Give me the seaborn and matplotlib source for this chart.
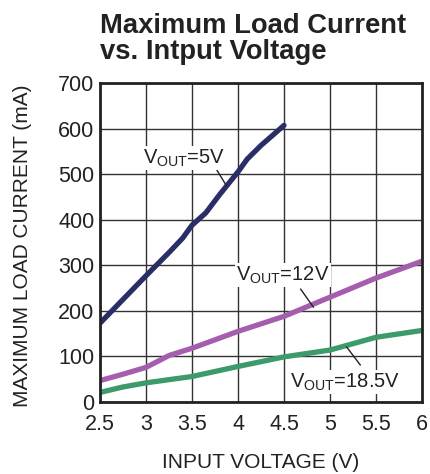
import numpy as np
import pandas as pd
import matplotlib
matplotlib.use("Agg")
import matplotlib.pyplot as plt
import seaborn as sns

sns.set_style("white")
plt.rcParams['font.family'] = ['Liberation Sans', 'DejaVu Sans']
plt.rcParams['mathtext.fontset'] = 'custom'
plt.rcParams['mathtext.rm'] = 'Liberation Sans'

# data (input voltage V, load current mA)
vin_5 = [2.5, 2.75, 3.0, 3.25, 3.4, 3.5, 3.65, 3.8, 4.0, 4.1, 4.25, 4.5]
iout_5 = [173, 225, 277, 328, 360, 388, 415, 455, 505, 533, 563, 607]

vin_12 = [2.5, 2.75, 3.0, 3.25, 3.5, 4.0, 4.5, 5.0, 5.5, 6.0]
iout_12 = [47, 61, 76, 102, 118, 155, 188, 230, 272, 309]

vin_185 = [2.5, 2.75, 3.0, 3.5, 4.0, 4.5, 5.0, 5.5, 6.0]
iout_185 = [21, 33, 42, 56, 78, 99, 114, 142, 157]

labels = ['V$_{\\mathregular{OUT}}$=5V', 'V$_{\\mathregular{OUT}}$=12V', 'V$_{\\mathregular{OUT}}$=18.5V']
colors = ['#2b2d66', '#a55eae', '#3c9a6b']

xticks = [2.5, 3, 3.5, 4, 4.5, 5, 5.5, 6]
xtick_labels = ['2.5', '3', '3.5', '4', '4.5', '5', '5.5', '6']
yticks = [0, 100, 200, 300, 400, 500, 600, 700]

df = pd.concat([
    pd.DataFrame({'vin': vin_5, 'iout': iout_5, 'curve': labels[0]}),
    pd.DataFrame({'vin': vin_12, 'iout': iout_12, 'curve': labels[1]}),
    pd.DataFrame({'vin': vin_185, 'iout': iout_185, 'curve': labels[2]}),
])

fig = plt.figure(figsize=(4.3, 4.74), dpi=100)
ax = fig.add_axes([100/430, 1 - 402/474, 322/430, 319/474])

sns.lineplot(data=df, x='vin', y='iout', hue='curve', palette=colors,
             linewidth=3.8, legend=False, ax=ax, sort=False)

ax.set_xlim(2.5, 6)
ax.set_ylim(0, 700)
ax.set_xticks(xticks)
ax.set_xticklabels(xtick_labels)
ax.set_yticks(yticks)
ax.grid(True, color='#333333', linewidth=1)
ax.set_axisbelow(True)
for s in ax.spines.values():
    s.set_linewidth(2)
    s.set_color('#222222')
ax.tick_params(axis='both', length=0, labelsize=15.5, colors='#222222')
ax.tick_params(axis='x', pad=9)
ax.tick_params(axis='y', pad=4)

ax.set_xlabel('INPUT VOLTAGE (V)', fontsize=15, color='#222222')
ax.set_ylabel('MAXIMUM LOAD CURRENT (mA)', fontsize=15, color='#222222')
ax.xaxis.set_label_coords(0.5, -0.16)
ax.yaxis.set_label_coords(-0.212, 0.49)

fig.text(100/430, 1 - 13/474, 'Maximum Load Current\nvs. Intput Voltage', fontsize=19.7,
         fontweight='bold', color='#222222', va='top', ha='left', linespacing=1.0)

# curve labels with leader lines
box = dict(facecolor='white', edgecolor='none', pad=1)
ax.text(2.97, 535, labels[0], fontsize=14.5, color='#222222', bbox=box, va='center')
ax.plot([3.77, 3.87], [509, 476], color='#222222', linewidth=1)
ax.text(3.98, 279, labels[1], fontsize=14.5, color='#222222', bbox=box, va='center')
ax.plot([4.68, 4.82], [248, 208], color='#222222', linewidth=1)
ax.text(4.57, 44, labels[2], fontsize=14.5, color='#222222', bbox=box, va='center')
ax.plot([5.18, 5.33], [121, 81], color='#222222', linewidth=1)

fig.savefig('out.png', dpi=100)
